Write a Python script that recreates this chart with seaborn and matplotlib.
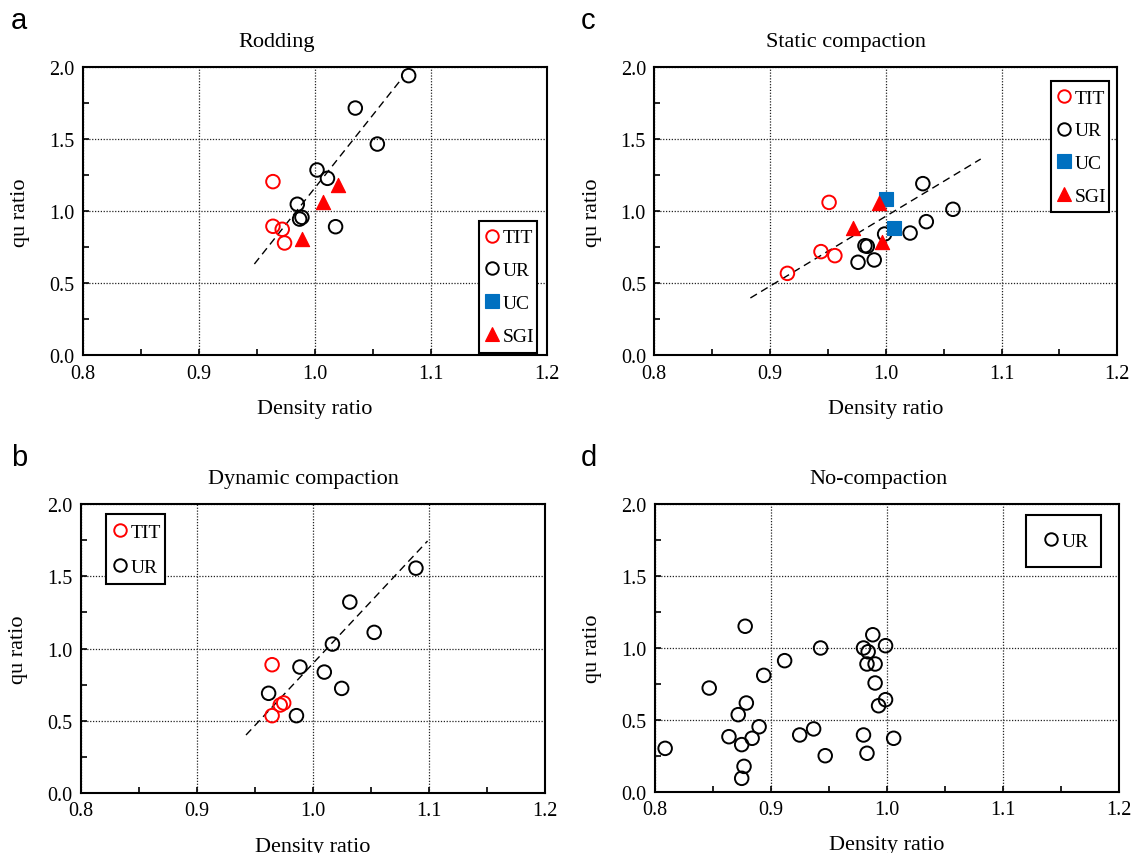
import matplotlib
matplotlib.use("Agg")
import matplotlib.pyplot as plt
import seaborn as sns
from matplotlib.lines import Line2D
from matplotlib.patches import Rectangle
from matplotlib.ticker import MultipleLocator, FormatStrFormatter

# ---------------- data ----------------
# (a) Rodding
rod_tit_x = [0.964, 0.964, 0.972, 0.974]
rod_tit_y = [1.206, 0.896, 0.875, 0.780]
rod_ur_x = [1.081, 1.035, 1.054, 1.002, 1.011, 0.985, 0.987, 0.989, 1.018]
rod_ur_y = [1.942, 1.717, 1.467, 1.287, 1.229, 1.049, 0.946, 0.958, 0.893]
rod_sgi_x = [1.020, 1.007, 0.989]
rod_sgi_y = [1.185, 1.062, 0.808]
rod_fit_x = [0.948, 1.076]
rod_fit_y = [0.634, 1.931]

# (c) Static compaction
st_tit_x = [0.951, 0.944, 0.956, 0.915]
st_tit_y = [1.062, 0.720, 0.692, 0.569]
st_ur_x = [1.032, 1.058, 1.035, 1.021, 0.999, 0.982, 0.984, 0.990, 0.976]
st_ur_y = [1.192, 1.014, 0.928, 0.849, 0.842, 0.761, 0.757, 0.662, 0.646]
st_uc_x = [1.000, 1.007]
st_uc_y = [1.085, 0.884]
st_sgi_x = [0.9945, 0.972, 0.997]
st_sgi_y = [1.056, 0.886, 0.789]
st_fit_x = [0.883, 1.082]
st_fit_y = [0.398, 1.363]

# (b) Dynamic compaction
dy_tit_x = [0.965, 0.975, 0.972, 0.965]
dy_tit_y = [0.888, 0.623, 0.609, 0.535]
dy_ur_x = [1.089, 1.032, 1.053, 1.017, 0.989, 1.010, 1.025, 0.962, 0.986]
dy_ur_y = [1.557, 1.322, 1.112, 1.031, 0.872, 0.837, 0.724, 0.690, 0.535]
dy_fit_x = [0.9425, 1.099]
dy_fit_y = [0.401, 1.745]

# (d) No-compaction
nc_ur_x = [0.809, 0.878, 0.847, 0.894, 0.879, 0.872, 0.890, 0.864, 0.884, 0.875,
           0.877, 0.875, 0.912, 0.943, 0.925, 0.937, 0.947, 0.988, 0.980, 0.984,
           0.983, 0.990, 0.990, 0.999, 0.999, 0.993, 0.980, 0.983, 1.006]
nc_ur_y = [0.303, 1.151, 0.722, 0.810, 0.618, 0.537, 0.453, 0.384, 0.373, 0.329,
           0.178, 0.095, 0.912, 1.000, 0.396, 0.438, 0.252, 1.092, 1.000, 0.974,
           0.889, 0.889, 0.757, 1.016, 0.641, 0.599, 0.396, 0.269, 0.373]

titles = ["Rodding", "Dynamic compaction", "Static compaction", "No-compaction"]
panel_letters = ["a", "b", "c", "d"]
x_ticks = [0.8, 0.9, 1.0, 1.1, 1.2]
y_ticks = [0.0, 0.5, 1.0, 1.5, 2.0]

# ---------------- styling ----------------
sns.set_theme(style="white")
plt.rcParams['font.family'] = ['Liberation Serif', 'DejaVu Serif']
plt.rcParams['text.color'] = 'black'
plt.rcParams['axes.labelcolor'] = 'black'
plt.rcParams['xtick.color'] = 'black'
plt.rcParams['ytick.color'] = 'black'

RED = '#FF0000'
BLUE = '#0070C0'
STY = {
    'TIT': dict(marker='o', fc='none', ec=RED, s=95, lw=1.4, ms=9.0),
    'UR': dict(marker='o', fc='none', ec='black', s=95, lw=1.4, ms=9.0),
    'UC': dict(marker='s', fc=BLUE, ec=BLUE, s=100, lw=0.8, ms=9.5),
    'SGI': dict(marker='^', fc=RED, ec=RED, s=105, lw=0.8, ms=9.5),
}

fig = plt.figure(figsize=(11.33, 8.54), dpi=100)
W, H = 1133, 854
# axes boxes in pixels: left, top, right, bottom
boxes = {
    'a': (82.7, 68.3, 546.7, 356.3),
    'b': (80.7, 505.2, 544.7, 793.9),
    'c': (654.3, 68.3, 1117.3, 356.3),
    'd': (654.7, 505.0, 1118.7, 793.0),
}
axes = {}
for k, (l, t, r, b) in boxes.items():
    axes[k] = fig.add_axes([l / W, (H - b) / H, (r - l) / W, (b - t) / H])


def style_axes(ax, title, title_x):
    ax.set_xlim(x_ticks[0], x_ticks[-1])
    ax.set_ylim(y_ticks[0], y_ticks[-1])
    ax.set_xticks(x_ticks)
    ax.set_yticks(y_ticks)
    ax.xaxis.set_minor_locator(MultipleLocator(0.05))
    ax.yaxis.set_minor_locator(MultipleLocator(0.25))
    ax.xaxis.set_major_formatter(FormatStrFormatter('%.1f'))
    ax.yaxis.set_major_formatter(FormatStrFormatter('%.1f'))
    ax.tick_params(which='both', direction='in', length=4, width=1.2,
                   bottom=True, left=True, top=False, right=False,
                   labelsize=14.5, pad=6, colors='black')
    ax.set_axisbelow(True)
    ax.grid(True, which='major', linestyle=(0, (1, 1.3)), linewidth=0.9,
            color='#222222')
    for sp in ax.spines.values():
        sp.set_visible(True)
        sp.set_linewidth(1.5)
        sp.set_color('black')
    ax.set_xlabel('Density ratio', fontsize=16)
    ax.set_ylabel('qu ratio', fontsize=16)
    ax.xaxis.set_label_coords(0.5, -53 / 288)
    ax.xaxis.label.set_verticalalignment('center')
    ax.yaxis.set_label_coords(-62 / 464, 0.5)
    ax.yaxis.label.set_verticalalignment('center')
    ax.set_title(title, fontsize=16, x=title_x, pad=15)


def scatter(ax, xs, ys, key):
    st = STY[key]
    sns.scatterplot(x=xs, y=ys, ax=ax, marker=st['marker'], s=st['s'],
                    facecolor=st['fc'], edgecolor=st['ec'], linewidth=st['lw'],
                    zorder=3, legend=False)


def fit(ax, xs, ys):
    sns.lineplot(x=xs, y=ys, ax=ax, color='black', linewidth=1.0,
                 linestyle=(0, (5.5, 3.5)), estimator=None, zorder=2)


def add_legend(ax, keys, box, anchor_x, center_y, spacing):
    rect = Rectangle((box[0], box[1]), box[2] - box[0], box[3] - box[1],
                     transform=ax.transAxes, facecolor='white',
                     edgecolor='black', linewidth=1.5, zorder=5)
    ax.add_patch(rect)
    handles = []
    for k in keys:
        st = STY[k]
        handles.append(Line2D([], [], linestyle='none', marker=st['marker'],
                              markersize=st['ms'], markerfacecolor=st['fc'],
                              markeredgecolor=st['ec'],
                              markeredgewidth=st['lw']))
    leg = ax.legend(handles, keys, loc='center left',
                    bbox_to_anchor=(anchor_x, center_y), frameon=False,
                    borderpad=0, borderaxespad=0, handlelength=0.8,
                    handletextpad=0.15, labelspacing=spacing, fontsize=14)
    leg.set_zorder(6)


# (a)
ax = axes['a']
fit(ax, rod_fit_x, rod_fit_y)
scatter(ax, rod_tit_x, rod_tit_y, 'TIT')
scatter(ax, rod_ur_x, rod_ur_y, 'UR')
scatter(ax, rod_sgi_x, rod_sgi_y, 'SGI')
style_axes(ax, titles[0], 0.417)
add_legend(ax, ['TIT', 'UR', 'UC', 'SGI'], (0.855, 0.009, 0.980, 0.466),
           0.866, 0.238, 0.78)

# (b)
ax = axes['b']
fit(ax, dy_fit_x, dy_fit_y)
scatter(ax, dy_tit_x, dy_tit_y, 'TIT')
scatter(ax, dy_ur_x, dy_ur_y, 'UR')
style_axes(ax, titles[1], 0.48)
add_legend(ax, ['TIT', 'UR'], (0.055, 0.723, 0.181, 0.967), 0.067, 0.843, 0.88)

# (c)
ax = axes['c']
fit(ax, st_fit_x, st_fit_y)
scatter(ax, st_tit_x, st_tit_y, 'TIT')
scatter(ax, st_ur_x, st_ur_y, 'UR')
scatter(ax, st_uc_x, st_uc_y, 'UC')
scatter(ax, st_sgi_x, st_sgi_y, 'SGI')
style_axes(ax, titles[2], 0.415)
add_legend(ax, ['TIT', 'UR', 'UC', 'SGI'], (0.857, 0.498, 0.982, 0.954),
           0.868, 0.723, 0.78)

# (d)
ax = axes['d']
scatter(ax, nc_ur_x, nc_ur_y, 'UR')
style_axes(ax, titles[3], 0.483)
add_legend(ax, ['UR'], (0.800, 0.780, 0.961, 0.962), 0.838, 0.870, 0.55)

# panel letters
letter_pos = {'a': (11, 21), 'b': (11, 458), 'c': (581, 21), 'd': (581, 458)}
for k, (px, py) in letter_pos.items():
    fig.text(px / W, 1 - py / H, k, fontsize=21, family='Liberation Sans',
             ha='left', va='center', color='black')

fig.savefig('out.png', dpi=100)
